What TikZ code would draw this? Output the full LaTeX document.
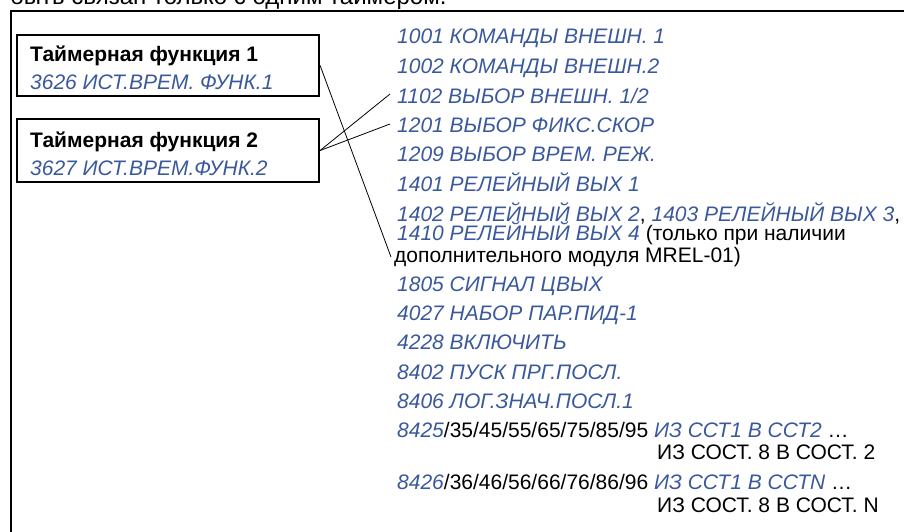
\documentclass[tikz,border=0pt]{standalone}
\usepackage{fontspec}
\setmainfont{Liberation Sans}
\definecolor{pblue}{RGB}{58,88,156}
\begin{document}
\begin{tikzpicture}[x=1pt,y=-1pt,
  txt/.style={inner sep=0pt,anchor=base west,font=\fontsize{21}{25}\selectfont},
  par/.style={txt,text=pblue,font=\fontsize{21}{25}\selectfont\itshape},
  ttl/.style={txt,font=\fontsize{21}{25}\selectfont\bfseries},
  fbox/.style={draw,line width=2.2pt,minimum width=302pt,inner sep=0pt},
  link/.style={line width=0.8pt}]
\useasboundingbox (0,0) rectangle (904,532);
% clipped heading line
\node[txt,font=\fontsize{24}{28}\selectfont] (head) at (10,5) {быть связан только с одним таймером.};
% outer frame
\draw[line width=2pt] (11,532) -- (11,11) -- (904,11);
% function boxes
\node[fbox,minimum height=61pt] (b1) at (168,65.5) {};
\node[ttl] (b1t) at (30,62) {Таймерная функция 1};
\node[par] (b1p) at (30,90) {3626 ИСТ.ВРЕМ. ФУНК.1};
\node[fbox,minimum height=63pt] (b2) at (168,150.5) {};
\node[ttl] (b2t) at (30,147) {Таймерная функция 2};
\node[par] (b2p) at (30,175) {3627 ИСТ.ВРЕМ.ФУНК.2};
% parameter list
\node[par] (p1001) at (397,44) {1001 КОМАНДЫ ВНЕШН. 1};
\node[par] (p1002) at (397,74) {1002 КОМАНДЫ ВНЕШН.2};
\node[par] (p1102) at (397,103) {1102 ВЫБОР ВНЕШН. 1/2};
\node[par] (p1201) at (397,132) {1201 ВЫБОР ФИКС.СКОР};
\node[par] (p1209) at (397,161) {1209 ВЫБОР ВРЕМ. РЕЖ.};
\node[par] (p1401) at (397,191) {1401 РЕЛЕЙНЫЙ ВЫХ 1};
\node[txt] (p1402) at (397,221) {\textcolor{pblue}{\itshape 1402 РЕЛЕЙНЫЙ ВЫХ 2}, \textcolor{pblue}{\itshape 1403 РЕЛЕЙНЫЙ ВЫХ 3},};
\node[txt] (p1410) at (397,240) {\textcolor{pblue}{\itshape 1410 РЕЛЕЙНЫЙ ВЫХ 4} (только при наличии};
\node[txt] (pmrel) at (394,262) {дополнительного модуля MREL-01)};
\node[par] (p1805) at (397,291) {1805 СИГНАЛ ЦВЫХ};
\node[par] (p4027) at (397,320) {4027 НАБОР ПАР.ПИД-1};
\node[par] (p4228) at (397,349) {4228 ВКЛЮЧИТЬ};
\node[par] (p8402) at (397,379) {8402 ПУСК ПРГ.ПОСЛ.};
\node[par] (p8406) at (397,408) {8406 ЛОГ.ЗНАЧ.ПОСЛ.1};
\node[txt] (p8425) at (397,437) {\textcolor{pblue}{\itshape 8425}/35/45/55/65/75/85/95 \textcolor{pblue}{\itshape ИЗ ССТ1 В ССТ2} …};
\node[txt] (p8425b) at (657,459) {ИЗ СОСТ. 8 В СОСТ. 2};
\node[txt] (p8426) at (397,489) {\textcolor{pblue}{\itshape 8426}/36/46/56/66/76/86/96 \textcolor{pblue}{\itshape ИЗ ССТ1 В ССТN} …};
\node[txt] (p8426b) at (657,512) {ИЗ СОСТ. 8 В СОСТ. N};
% connector ends
\coordinate (e1) at (391,257);
\coordinate (e2) at (390,94);
\coordinate (e3) at (390,124);
\draw[link] (b1.east) -- (e1);
\draw[link] (b2.east) -- (e2);
\draw[link] (b2.east) -- (e3);
\end{tikzpicture}
\end{document}
